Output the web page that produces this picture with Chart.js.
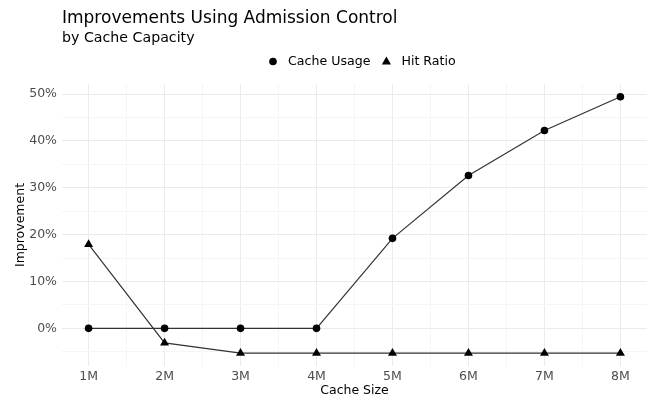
<!DOCTYPE html>
<html>
<head>
<meta charset="utf-8">
<script src="https://cdn.jsdelivr.net/npm/chart.js@4.4.1/dist/chart.umd.min.js"></script>
<style>
  html, body { margin: 0; padding: 0; background: #fff; }
  #wrap { width: 650px; height: 398px; }
</style>
</head>
<body>
<div id="wrap"><canvas id="chart" width="650" height="398"></canvas></div>
<script>
const categories = ['1M', '2M', '3M', '4M', '5M', '6M', '7M', '8M'];
const cacheUsage = [0, 0, 0, 0, 19.2, 32.6, 42.2, 49.4];
const hitRatio = [17.9, -3.1, -5.3, -5.3, -5.3, -5.3, -5.3, -5.3];
const yMajor = [0, 10, 20, 30, 40, 50];
const yMinor = [-5, 5, 15, 25, 35, 45];
const xMinor = [1.5, 2.5, 3.5, 4.5, 5.5, 6.5, 7.5];

const FONT = "'DejaVu Sans', sans-serif";

function toPoints(values) {
  return values.map((v, i) => ({ x: i + 1, y: v }));
}

// ggplot style 5% expansion
const allY = cacheUsage.concat(hitRatio);
const yLo = Math.min(...allY), yHi = Math.max(...allY);
const yPad = (yHi - yLo) * 0.05;
const xPad = (categories.length - 1) * 0.05;

const headerPlugin = {
  id: 'header',
  afterDraw(chart) {
    const ctx = chart.ctx;
    const left = chart.chartArea.left;
    ctx.save();
    ctx.fillStyle = '#000';
    ctx.textBaseline = 'alphabetic';
    ctx.textAlign = 'left';
    ctx.font = '17px ' + FONT;
    ctx.fillText('Improvements Using Admission Control', left, 23);
    ctx.font = '14.2px ' + FONT;
    ctx.fillText('by Cache Capacity', left, 42);

    // legend
    ctx.font = '12.6px ' + FONT;
    const items = [['Cache Usage', 'circle'], ['Hit Ratio', 'triangle']];
    const cy = 61.5;
    let x = 273;
    items.forEach(([label, shape]) => {
      ctx.fillStyle = '#000';
      ctx.beginPath();
      if (shape === 'circle') {
        ctx.arc(x, cy, 3.8, 0, Math.PI * 2);
      } else {
        ctx.moveTo(x, cy - 5);
        ctx.lineTo(x + 4.6, cy + 3);
        ctx.lineTo(x - 4.6, cy + 3);
        ctx.closePath();
      }
      ctx.fill();
      ctx.textBaseline = 'middle';
      ctx.fillText(label, x + 15, cy);
      x += 15 + ctx.measureText(label).width + 16;
    });
    ctx.restore();
  }
};

new Chart(document.getElementById('chart'), {
  type: 'line',
  data: {
    datasets: [
      {
        label: 'Cache Usage',
        data: toPoints(cacheUsage),
        borderColor: '#333',
        borderWidth: 1.2,
        pointStyle: 'circle',
        pointRadius: 3.8,
        pointBackgroundColor: '#000',
        pointBorderWidth: 0,
        tension: 0
      },
      {
        label: 'Hit Ratio',
        data: toPoints(hitRatio),
        borderColor: '#333',
        borderWidth: 1.2,
        pointStyle: 'triangle',
        pointRadius: 5.2,
        pointBackgroundColor: '#000',
        pointBorderWidth: 0,
        tension: 0
      }
    ]
  },
  options: {
    responsive: false,
    animation: false,
    layout: { autoPadding: false, padding: { top: 84, right: 3, left: 0, bottom: 0 } },
    plugins: {
      legend: { display: false },
      title: { display: false },
      tooltip: { enabled: false }
    },
    scales: {
      x: {
        type: 'linear',
        min: 1 - xPad,
        max: categories.length + xPad,
        border: { display: false },
        afterBuildTicks(scale) {
          const vals = categories.map((c, i) => i + 1).concat(xMinor).sort((a, b) => a - b);
          scale.ticks = vals.map(v => ({ value: v }));
        },
        afterFit(scale) {
          scale.height = 32;
          scale.paddingLeft = 0;
          scale.paddingRight = 0;
        },
        grid: {
          drawTicks: false,
          color: ctx => Number.isInteger(ctx.tick.value) ? '#ebebeb' : '#f5f5f5',
          lineWidth: 1
        },
        ticks: {
          autoSkip: false,
          maxRotation: 0,
          padding: 3,
          color: '#4d4d4d',
          font: { family: FONT, size: 12.5 },
          callback: v => Number.isInteger(v) ? categories[v - 1] : ''
        },
        title: {
          display: true,
          text: 'Cache Size',
          color: '#000',
          font: { family: FONT, size: 12.5 },
          padding: { top: 0, bottom: 0 }
        }
      },
      y: {
        type: 'linear',
        min: yLo - yPad,
        max: yHi + yPad,
        border: { display: false },
        afterBuildTicks(scale) {
          const vals = yMajor.concat(yMinor).sort((a, b) => a - b);
          scale.ticks = vals.map(v => ({ value: v }));
        },
        afterFit(scale) {
          scale.width = 62;
          scale.paddingTop = 0;
          scale.paddingBottom = 0;
        },
        grid: {
          drawTicks: false,
          color: ctx => yMajor.includes(ctx.tick.value) ? '#ebebeb' : '#f5f5f5',
          lineWidth: 1
        },
        ticks: {
          padding: 5,
          color: '#4d4d4d',
          font: { family: FONT, size: 12.5 },
          callback: v => yMajor.includes(v) ? v + '%' : ''
        },
        title: {
          display: true,
          text: 'Improvement',
          color: '#000',
          font: { family: FONT, size: 12.5 },
          padding: { top: 13, bottom: 0 }
        }
      }
    }
  },
  plugins: [headerPlugin]
});
</script>
</body>
</html>
